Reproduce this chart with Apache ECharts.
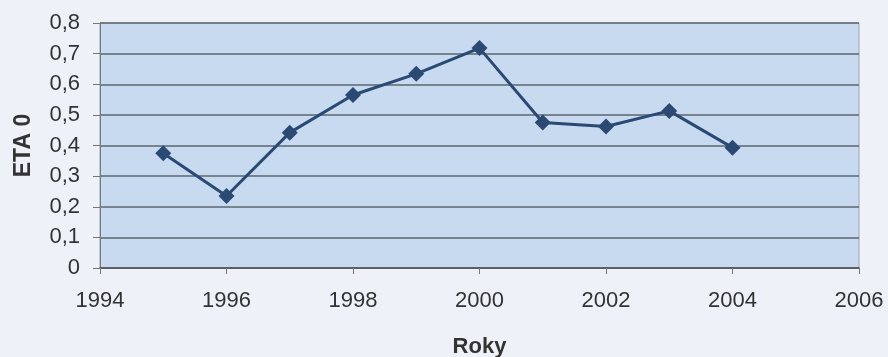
<!DOCTYPE html>
<html>
	<head>
		<meta charset="utf-8">
		<title></title>
		<script src="https://cdn.jsdelivr.net/npm/echarts@6/dist/echarts.min.js"></script>
		<style>
			html, body { margin: 0; padding: 0; background: #eef2f8; }
		</style>
	</head>

	<body>
		<div id="main" style="width: 888px; height: 357px;"></div>
		<script type="text/javascript">
			var years = [1995, 1996, 1997, 1998, 1999, 2000, 2001, 2002, 2003, 2004];
			var eta0 = [0.375, 0.235, 0.442, 0.565, 0.634, 0.718, 0.475, 0.462, 0.513, 0.393];

			var points = years.map(function (y, i) { return [y, eta0[i]]; });

			var myChart = echarts.init(document.getElementById("main"));
			var option = {
			  backgroundColor: '#eef2f8',
			  textStyle: { fontFamily: 'Liberation Sans, Arial, sans-serif' },
			  grid: {
			    left: 100,
			    right: 29,
			    top: 23,
			    bottom: 89,
			    outerBoundsMode: 'none',
			    containLabel: false,
			    show: true,
			    backgroundColor: '#c7daef',
			    borderColor: '#9aa3ad',
			    borderWidth: 1
			  },
			  xAxis: {
			    type: 'value',
			    min: 1994,
			    max: 2006,
			    interval: 2,
			    name: 'Roky',
			    nameLocation: 'middle',
			    nameGap: 68,
			    nameTextStyle: { fontSize: 22, fontWeight: 'bold', color: '#333' },
			    axisLine: { lineStyle: { color: '#555', width: 1.5 } },
			    axisTick: { show: true, length: 6, lineStyle: { color: '#777' } },
			    axisLabel: {
			      fontSize: 22,
			      color: '#333',
			      margin: 22,
			      formatter: function (v) { return String(v); }
			    },
			    splitLine: { show: false }
			  },
			  yAxis: {
			    type: 'value',
			    min: 0,
			    max: 0.8,
			    interval: 0.1,
			    name: 'ETA 0',
			    nameLocation: 'middle',
			    nameGap: 65,
			    nameTextStyle: { fontSize: 23, fontWeight: 'bold', color: '#333' },
			    axisLine: { show: true, lineStyle: { color: '#777', width: 1 } },
			    axisTick: { show: true, length: 7, lineStyle: { color: '#777' } },
			    axisLabel: {
			      fontSize: 22,
			      color: '#333',
			      margin: 20,
			      formatter: function (v) { return v === 0 ? '0' : v.toFixed(1).replace('.', ','); }
			    },
			    splitLine: { show: true, lineStyle: { color: '#5e6670', width: 1.5 } }
			  },
			  series: [
			    {
			      type: 'line',
			      data: points,
			      symbol: 'diamond',
			      symbolSize: 16,
			      lineStyle: { color: '#2a4a74', width: 3 },
			      itemStyle: { color: '#2a4a74' },
			      animation: false
			    }
			  ]
			};
			myChart.setOption(option);
		</script>
	</body>
</html>
